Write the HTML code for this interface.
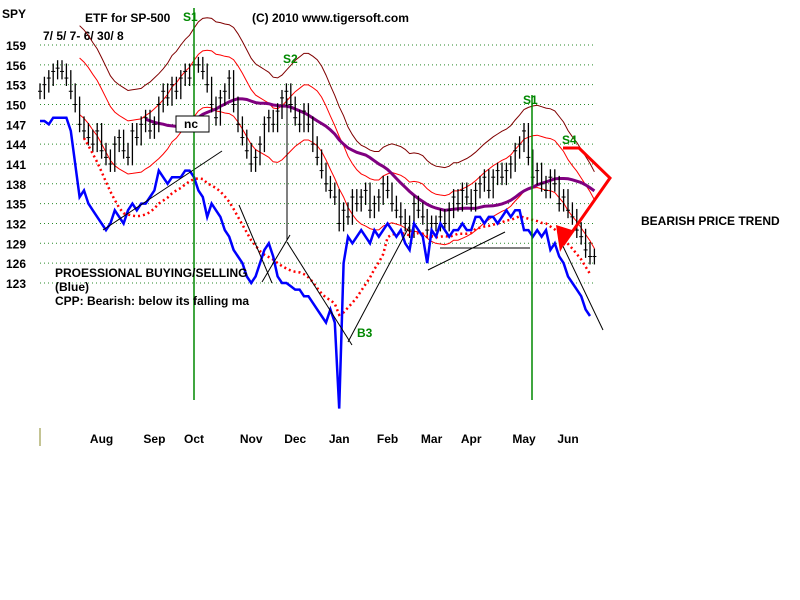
<!DOCTYPE html>
<html><head><meta charset="utf-8"><style>
body{margin:0;background:#fff;width:800px;height:600px;overflow:hidden}
svg{display:block}
text{font-family:"Liberation Sans",Arial,sans-serif;font-weight:bold;font-size:12px}
</style></head><body>
<svg id="c" width="800" height="600"></svg>
<script>
const yTicks=[159,156,153,150,147,144,141,138,135,132,129,126,123];
const months=["Aug","Sep","Oct","Nov","Dec","Jan","Feb","Mar","Apr","May","Jun"];
const monthIdx=[14,26,35,48,58,68,79,89,98,110,120];
const closes=[152,153,154,155,155.5,155,154,152,
150,147,146,145,144,146,143,142,141,144,
145,143,142,146,145,147,148,146,147,150,
152,151,153,152,154,155,154,
156,156,155,
153,150,148,151,152,154,150,147,145,143,141,
142,144,147,148,147,
149,151,152,150,148,147,
149,147,144,142,140,138,137,136,132,
134,133,136,135,136,137,134,135,136,138,137,
135,134,133,132,131,135,134,133,131,132,
132,133,132,134,136,135,137,136,135,137,
138,139,137,139,140,139,140,141,143,144,146,
142,139,140,138,137,139,138,135,
136,134,133,131,130,128,127,127];
const blue=[147.5,147.5,147,148,148,148,148,146,
141,136,137,135,134,133,132,131,132,
134,133,132,134,135,134,135,135,136,137,
140,139,138,139,139,139,140,
140,139,137,
136,133,135,134,133,131,130,128,127,126,124,
123,124,126,128,129,
127,124,123,123,122.5,122,
122,121,121,120,119,118,117,119,117,
104,126,130,129,130,131,130,129,131,130,131,
132,131,130,131,129,128,132,131,130,126,
131,130,132,131,130,131,131,132,131,131,
133,133,132,133,133,132,133,134,133,134,134,
131,131,130,131,130,131,128,129,
127,126,124,123,122,121,119,118];
const S=document.getElementById('c'),NS='http://www.w3.org/2000/svg';
const X=i=>40+i*4.4, Y=p=>45+(159-p)*6.61;
function el(t,a,name){const e=document.createElementNS(NS,t);for(const k in a)e.setAttribute(k,a[k]);


S.appendChild(e);return e;}
function txt(x,y,s,name,fill,anchor){const e=el('text',{x:x,y:y,style:'fill:'+(fill||'#000'),'text-anchor':anchor||'start'},name);e.textContent=s;return e;}
function ma(a,n){return a.map((v,i)=>{if(i<n-1)return null;let s=0;for(let j=i-n+1;j<=i;j++)s+=a[j];return s/n;});}
function pl(vals,f,attrs,name){let pts=[];vals.forEach((v,i)=>{if(v!=null)pts.push(X(i).toFixed(1)+','+Y(f(v)).toFixed(1));});el('polyline',Object.assign({points:pts.join(' '),fill:'none'},attrs),name);}
yTicks.forEach(t=>{el('line',{x1:40,x2:595,y1:Y(t),y2:Y(t),stroke:'#2a8a2a','stroke-width':1,'stroke-dasharray':'1 3'},'grid-line');
txt(6,Y(t)+5,String(t),'y-tick-label');});
txt(2,18,'SPY','ticker-label');txt(85,22,'ETF for SP-500','chart-title');
txt(252,22,'(C) 2010 www.tigersoft.com','copyright');txt(43,40,'7/ 5/ 7- 6/ 30/ 8','date-range');
months.forEach((m,k)=>txt(X(monthIdx[k]),443,m,'month-label',null,'middle'));
el('line',{x1:40,x2:40,y1:428,y2:446,stroke:'#8a8a2a'},'axis-tick');
const m10=ma(closes,10),m25=ma(closes,25);
pl(m10,v=>v*1.06,{stroke:'#800000','stroke-width':1},'outer-band');
pl(m10,v=>v*1.028,{stroke:'#f00','stroke-width':1},'upper-band');
pl(m10,v=>v*0.972,{stroke:'#f00','stroke-width':1},'lower-band');
pl(m25,v=>v,{stroke:'#800080','stroke-width':3},'purple-ma');
closes.forEach((c,i)=>{const p=i?closes[i-1]:c;const hi=Math.max(c,p)+1.2,lo=Math.min(c,p)-1.2;
el('line',{x1:X(i),x2:X(i),y1:Y(hi),y2:Y(lo),stroke:'#000','stroke-width':1.3},'price-bar');
el('line',{x1:X(i)-2,x2:X(i)+2,y1:Y(c),y2:Y(c),stroke:'#000'},'close-tick');});
pl(ma(blue,11),v=>v,{stroke:'#f00','stroke-width':2.5,'stroke-dasharray':'2 3'},'blue-ma-dotted');
pl(blue,v=>v,{stroke:'#00f','stroke-width':2.5},'professional-line');
[[103,230,222,151],[239,205,272,283],[262,282,290,235],[287,242,352,345],[348,342,410,225],[428,270,505,232],[440,248,530,248],[560,240,603,330]].forEach(l=>el('line',{x1:l[0],y1:l[1],x2:l[2],y2:l[3],stroke:'#000','stroke-width':1},'trendline'));
el('line',{x1:194,x2:194,y1:8,y2:400,stroke:'#080','stroke-width':1.5},'s1-line');
el('line',{x1:532,x2:532,y1:95,y2:400,stroke:'#080','stroke-width':1.5},'s1-line-may');
el('line',{x1:287,x2:287,y1:98,y2:240,stroke:'#000'},'s2-line');
txt(183,21,'S1','signal-s1','#080');txt(283,63,'S2','signal-s2','#080');
txt(523,104,'S1','signal-s1-may','#080');txt(562,144,'S4','signal-s4','#080');txt(357,337,'B3','signal-b3','#080');
el('rect',{x:176,y:116,width:33,height:16,fill:'#fff',stroke:'#000'},'nc-box');txt(184,128,'nc','nc-label');
el('polyline',{points:'563,148 579,148 610,178 563,245',fill:'none',stroke:'#f00','stroke-width':3},'s4-arrow');
el('polygon',{points:'556,225 572,230 560,252',fill:'#f00'},'s4-arrowhead');
txt(641,225,'BEARISH PRICE TREND','trend-note');
txt(55,277,'PROESSIONAL BUYING/SELLING','note-line1');txt(55,291,'(Blue)','note-line2');txt(55,305,'CPP: Bearish: below its falling ma','note-line3');
</script></body></html>
